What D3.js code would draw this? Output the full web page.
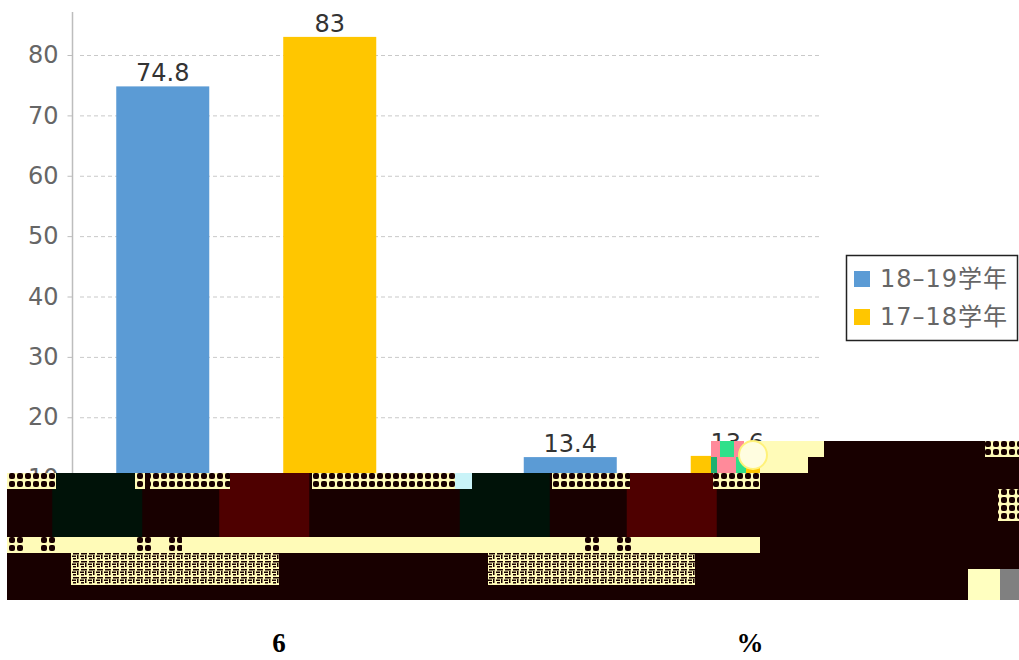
<!DOCTYPE html>
<html>
<head>
<meta charset="utf-8">
<script src="https://cdn.jsdelivr.net/npm/d3@7"></script>
<style>
html,body{margin:0;padding:0;background:#fff;overflow:hidden}
svg{display:block}
</style>
</head>
<body>
<svg id="c" width="1019" height="660"></svg>
<script>
// ---- chart data ----
const categories = ["A", "B"];
const seriesNames = ["18-19学年", "17-18学年"];
const series1819 = [74.8, 13.4];
const series1718 = [83, 13.6];
const yTicks = [10, 20, 30, 40, 50, 60, 70, 80];
const footnotes = ["6", "%"];

// ---- palette ----
const BLUE = "#5b9bd5", GOLD = "#ffc600", INK = "#180000", PALE = "#fffbb8";
const DARKBLUE = "#001208", DARKGOLD = "#4e0000";

const svg = d3.select("#c");
const FONT = "'DejaVu Sans', 'Noto Sans CJK SC', sans-serif";

const y = d3.scaleLinear().domain([0, 80]).range([538, 55]);
const x0 = d3.scaleBand().domain(categories).range([42.5, 857.5]);
const x1 = d3.scaleBand().domain(seriesNames).range([-130, 130]).paddingInner(0.443).paddingOuter(0);
const color = d3.scaleOrdinal().domain(seriesNames).range([BLUE, GOLD]);
const dark = d3.scaleOrdinal().domain(seriesNames).range([DARKBLUE, DARKGOLD]);
const rows = categories.flatMap((c, i) => [
  {c, s: seriesNames[0], v: series1819[i]},
  {c, s: seriesNames[1], v: series1718[i]}
]);
const barX = d => x0(d.c) + x0.bandwidth() / 2 + x1(d.s);

// checker patterns of the damaged strips
const defs = svg.append("defs");
const pat = defs.append("pattern").attr("id", "chk").attr("patternUnits", "userSpaceOnUse")
  .attr("width", 8).attr("height", 8);
pat.append("rect").attr("width", 8).attr("height", 8).attr("fill", PALE);
pat.append("rect").attr("x", 1).attr("y", 1).attr("width", 6).attr("height", 6).attr("rx", 2).attr("fill", INK);
const pat2 = defs.append("pattern").attr("id", "chk2").attr("patternUnits", "userSpaceOnUse")
  .attr("width", 8).attr("height", 8);
pat2.append("rect").attr("width", 8).attr("height", 8).attr("fill", PALE);
pat2.append("rect").attr("x", 1).attr("y", 1).attr("width", 6).attr("height", 1.5).attr("fill", INK);
pat2.append("rect").attr("x", 0).attr("y", 3.5).attr("width", 4).attr("height", 1.5).attr("fill", INK);
pat2.append("rect").attr("x", 5).attr("y", 3).attr("width", 1.5).attr("height", 4).attr("fill", INK);
pat2.append("rect").attr("x", 1).attr("y", 6).attr("width", 3).attr("height", 1.5).attr("fill", INK);

// gridlines
svg.append("g").selectAll("line").data(yTicks).join("line")
  .attr("x1", 80).attr("x2", 821)
  .attr("y1", d => y(d) + 0.5).attr("y2", d => y(d) + 0.5)
  .attr("stroke", "#c9c9c9").attr("stroke-dasharray", "4 3");

// y axis
const axis = svg.append("g").attr("transform", "translate(72.5,0)")
  .call(d3.axisLeft(y).tickValues(yTicks).tickSize(5).tickPadding(9).tickFormat(d3.format("d")));
axis.select(".domain").attr("d", "M0,12V473").attr("stroke", "#bdbdbd").attr("stroke-width", 1.5);
axis.selectAll(".tick line").attr("stroke", "#bdbdbd");
axis.selectAll("text").attr("fill", "#666").style("font", "24px " + FONT);

// bars
svg.append("g").selectAll("rect").data(rows).join("rect")
  .attr("x", barX).attr("width", x1.bandwidth())
  .attr("y", d => y(d.v)).attr("height", d => y(0) - y(d.v))
  .attr("fill", d => color(d.s));

// value labels
svg.append("g").selectAll("text").data(rows).join("text")
  .attr("x", d => barX(d) + x1.bandwidth() / 2)
  .attr("y", d => y(d.v) - 5)
  .attr("text-anchor", "middle").attr("fill", "#333")
  .style("font", "24px " + FONT)
  .text(d => d.v);

// damaged image area
const block = (x, yy, w, h, f) => svg.append("rect")
  .attr("x", x).attr("y", yy).attr("width", w).attr("height", h).attr("fill", f);
block(750, 441, 74, 16, PALE);
block(760, 457, 48, 16, PALE);
block(824, 441, 195, 32, INK);
block(808, 457, 16, 16, INK);
block(7, 473, 1012, 127, INK);

// bars seen through the damage (shifted image rows)
svg.append("g").selectAll("rect").data(rows).join("rect")
  .attr("x", d => barX(d) - 64).attr("width", x1.bandwidth() - 3)
  .attr("y", 473).attr("height", y(0) - 1 - 473)
  .attr("fill", d => dark(d.s));

// checker strips
[[7,473,49,16],[135,473,10,16],[150,473,68,16],[218,473,12,16],[312,473,143,16],
 [552,473,68,16],[620,473,10,16],[713,473,47,16],[985,441,34,16],[998,489,21,32]]
  .forEach(r => block(r[0], r[1], r[2], r[3], "url(#chk)"));
block(455, 473, 17, 16, "#c9f3f8");
block(7, 537, 753, 16, PALE);
[[7,537,17,16],[40,537,15,16],[135,537,16,32],[167,537,15,32],[585,537,16,16],[616,537,16,16]]
  .forEach(r => block(r[0], r[1], r[2], r[3], "url(#chk)"));
block(71, 553, 208, 32, "url(#chk2)");
block(488, 553, 207, 32, "url(#chk2)");
block(968, 569, 32, 31, "#ffffc0");
block(1000, 569, 19, 31, "#808080");

// coloured noise round the last label
[[711,441,10,32,"#ff8a9a"],[720,441,14,16,"#2fe08a"],[734,441,10,16,"#ff8a9a"],
 [736,457,10,16,"#2fe08a"],[721,457,15,16,"#ff8a9a"],[711,457,6,16,"#1fb070"]]
  .forEach(r => block(r[0], r[1], r[2], r[3], r[4]));
svg.append("circle").attr("cx", 753).attr("cy", 455).attr("r", 14)
  .attr("fill", "#fffde0").attr("stroke", "#fff27a").attr("stroke-width", 2);

// legend
const lg = svg.append("g");
lg.append("rect").attr("x", 846.5).attr("y", 255.5).attr("width", 171).attr("height", 85)
  .attr("fill", "#fff").attr("stroke", "#222").attr("stroke-width", 1.5);
const ly = d3.scalePoint().domain(seriesNames).range([279, 317]);
const li = lg.selectAll("g").data(seriesNames).join("g")
  .attr("transform", d => `translate(0,${ly(d)})`);
li.append("rect").attr("x", 854).attr("y", -8).attr("width", 16).attr("height", 16).attr("fill", d => color(d));
li.append("text").attr("x", 880).attr("y", 8).attr("fill", "#666")
  .style("font", "24px " + FONT).style("letter-spacing", "1px").text(d => d.replace("-", "–"));

// footnote glyphs under the picture
const fx = d3.scalePoint().domain(footnotes).range([279, 750]);
svg.append("g").selectAll("text").data(footnotes).join("text")
  .attr("x", d => fx(d)).attr("y", 652).attr("text-anchor", "middle")
  .attr("fill", "#000").style("font", "bold 27px 'Liberation Serif', serif")
  .text(d => d);
</script>
</body>
</html>
